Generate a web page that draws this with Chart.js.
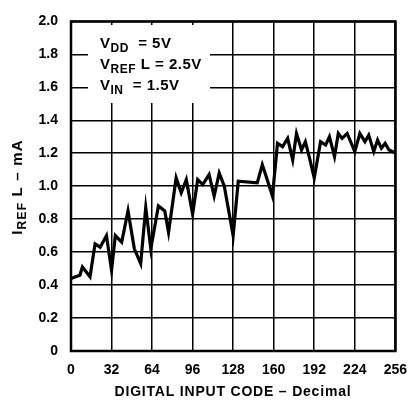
<!DOCTYPE html>
<html>
<head>
<meta charset="utf-8">
<script src="https://cdn.jsdelivr.net/npm/chart.js@4/dist/chart.umd.min.js"></script>
<style>
  html, body { margin: 0; padding: 0; background: #fff; }
  #wrap { width: 418px; height: 401px; }
</style>
</head>
<body>
<div id="wrap"><canvas id="grafico" width="418" height="401"></canvas></div>
<script>
// codigo digital (decimal) y corriente IREF L en mA
const codigos = [0, 7, 9, 15, 19, 23, 28, 32, 35, 40, 45, 50, 55, 59, 63, 69, 74, 77, 83, 87,
  91, 96, 100, 104, 109, 113, 117, 121, 128, 132, 147, 151, 154, 159, 163, 167, 171, 175, 178,
  182, 185, 188, 192, 197, 201, 204, 208, 211, 214, 218, 224, 228, 232, 235, 239, 242, 245,
  248, 251, 254, 256];
const corriente = [0.44, 0.46, 0.51, 0.45, 0.65, 0.63, 0.70, 0.49, 0.70, 0.66, 0.85, 0.62,
  0.53, 0.87, 0.62, 0.88, 0.85, 0.72, 1.05, 0.96, 1.04, 0.83, 1.04, 1.01, 1.07, 0.94, 1.08,
  1.0, 0.70, 1.03, 1.02, 1.13, 1.06, 0.94, 1.26, 1.24, 1.29, 1.16, 1.32, 1.22, 1.27, 1.18,
  1.05, 1.27, 1.25, 1.30, 1.18, 1.32, 1.29, 1.32, 1.21, 1.32, 1.27, 1.31, 1.21, 1.28, 1.23,
  1.26, 1.22, 1.21, 1.20];
const ticksX = [0, 32, 64, 96, 128, 160, 192, 224, 256];
const ticksY = [0, 0.2, 0.4, 0.6, 0.8, 1.0, 1.2, 1.4, 1.6, 1.8, 2.0];
const condiciones = [
  ["V", "DD", "  = 5V"],
  ["V", "REF", " L = 2.5V"],
  ["V", "IN", "  = 1.5V"],
];

const fuente = "'Liberation Sans', Arial, sans-serif";

// texto con subindice
function textoSub(ctx, x, y, base, sub, resto, tam, dsub) {
  ctx.font = "bold " + tam + "px " + fuente;
  ctx.fillText(base, x, y);
  x += ctx.measureText(base).width;
  ctx.font = "bold " + (tam - 3) + "px " + fuente;
  ctx.fillText(sub, x, y + dsub);
  x += ctx.measureText(sub).width;
  ctx.font = "bold " + tam + "px " + fuente;
  ctx.fillText(resto, x, y);
}

const extras = {
  id: "extras",
  beforeDatasetsDraw(chart) {
    const ctx = chart.ctx;
    ctx.save();
    // caja blanca de las condiciones
    ctx.fillStyle = "#fff";
    ctx.fillRect(88, 25, 122, 78);
    ctx.fillStyle = "#000";
    ctx.textBaseline = "alphabetic";
    ctx.textAlign = "left";
    ctx.letterSpacing = "0.5px";
    const ys = [48, 69, 90];
    condiciones.forEach((c, i) => textoSub(ctx, 100, ys[i], c[0], c[1], c[2], 15, 4));
    ctx.restore();
  },
  afterDraw(chart) {
    const ctx = chart.ctx;
    const a = chart.chartArea;
    ctx.save();
    ctx.strokeStyle = "#000";
    ctx.lineWidth = 2.5;
    ctx.strokeRect(a.left, a.top, a.right - a.left, a.bottom - a.top);
    ctx.fillStyle = "#000";
    // titulo eje x
    ctx.font = "bold 14px " + fuente;
    ctx.letterSpacing = "0.8px";
    ctx.textAlign = "center";
    ctx.textBaseline = "middle";
    ctx.fillText("DIGITAL INPUT CODE \u2013 Decimal", 233, 392);
    // titulo eje y (rotado)
    ctx.letterSpacing = "1.2px";
    ctx.translate(17, 187);
    ctx.rotate(-Math.PI / 2);
    ctx.textBaseline = "alphabetic";
    ctx.textAlign = "left";
    ctx.font = "bold 15px " + fuente;
    const w1 = ctx.measureText("I").width + ctx.measureText(" L \u2013 mA").width;
    ctx.font = "bold 12px " + fuente;
    const w2 = ctx.measureText("REF").width;
    textoSub(ctx, -(w1 + w2) / 2, 5, "I", "REF", " L \u2013 mA", 15, 4);
    ctx.restore();
  },
};

new Chart(document.getElementById("grafico").getContext("2d"), {
  type: "scatter",
  data: {
    datasets: [
      {
        data: codigos.map((c, i) => ({ x: c, y: corriente[i] })),
        showLine: true,
        borderColor: "#000",
        borderWidth: 3.2,
        pointRadius: 0,
        tension: 0,
      },
    ],
  },
  options: {
    responsive: false,
    animation: false,
    layout: { padding: { top: 15, right: 15, left: 0, bottom: 0 } },
    plugins: { legend: { display: false }, tooltip: { enabled: false } },
    scales: {
      x: {
        type: "linear",
        min: 0,
        max: 256,
        afterBuildTicks: (s) => { s.ticks = ticksX.map((v) => ({ value: v })); },
        afterFit: (s) => { s.height = 50; },
        grid: { color: "#000", lineWidth: 1.5, drawTicks: false },
        border: { display: false },
        ticks: {
          color: "#000",
          padding: 11,
          maxRotation: 0,
          font: { family: fuente, weight: "bold", size: 14 },
        },
      },
      y: {
        min: 0,
        max: 2,
        afterBuildTicks: (s) => { s.ticks = ticksY.map((v) => ({ value: v })); },
        afterFit: (s) => { s.width = 71; },
        grid: { color: "#000", lineWidth: 1.5, drawTicks: false },
        border: { display: false },
        ticks: {
          color: "#000",
          padding: 13,
          font: { family: fuente, weight: "bold", size: 14 },
          callback: (v) => (v === 0 ? "0" : v.toFixed(1)),
        },
      },
    },
  },
  plugins: [extras],
});
</script>
</body>
</html>
